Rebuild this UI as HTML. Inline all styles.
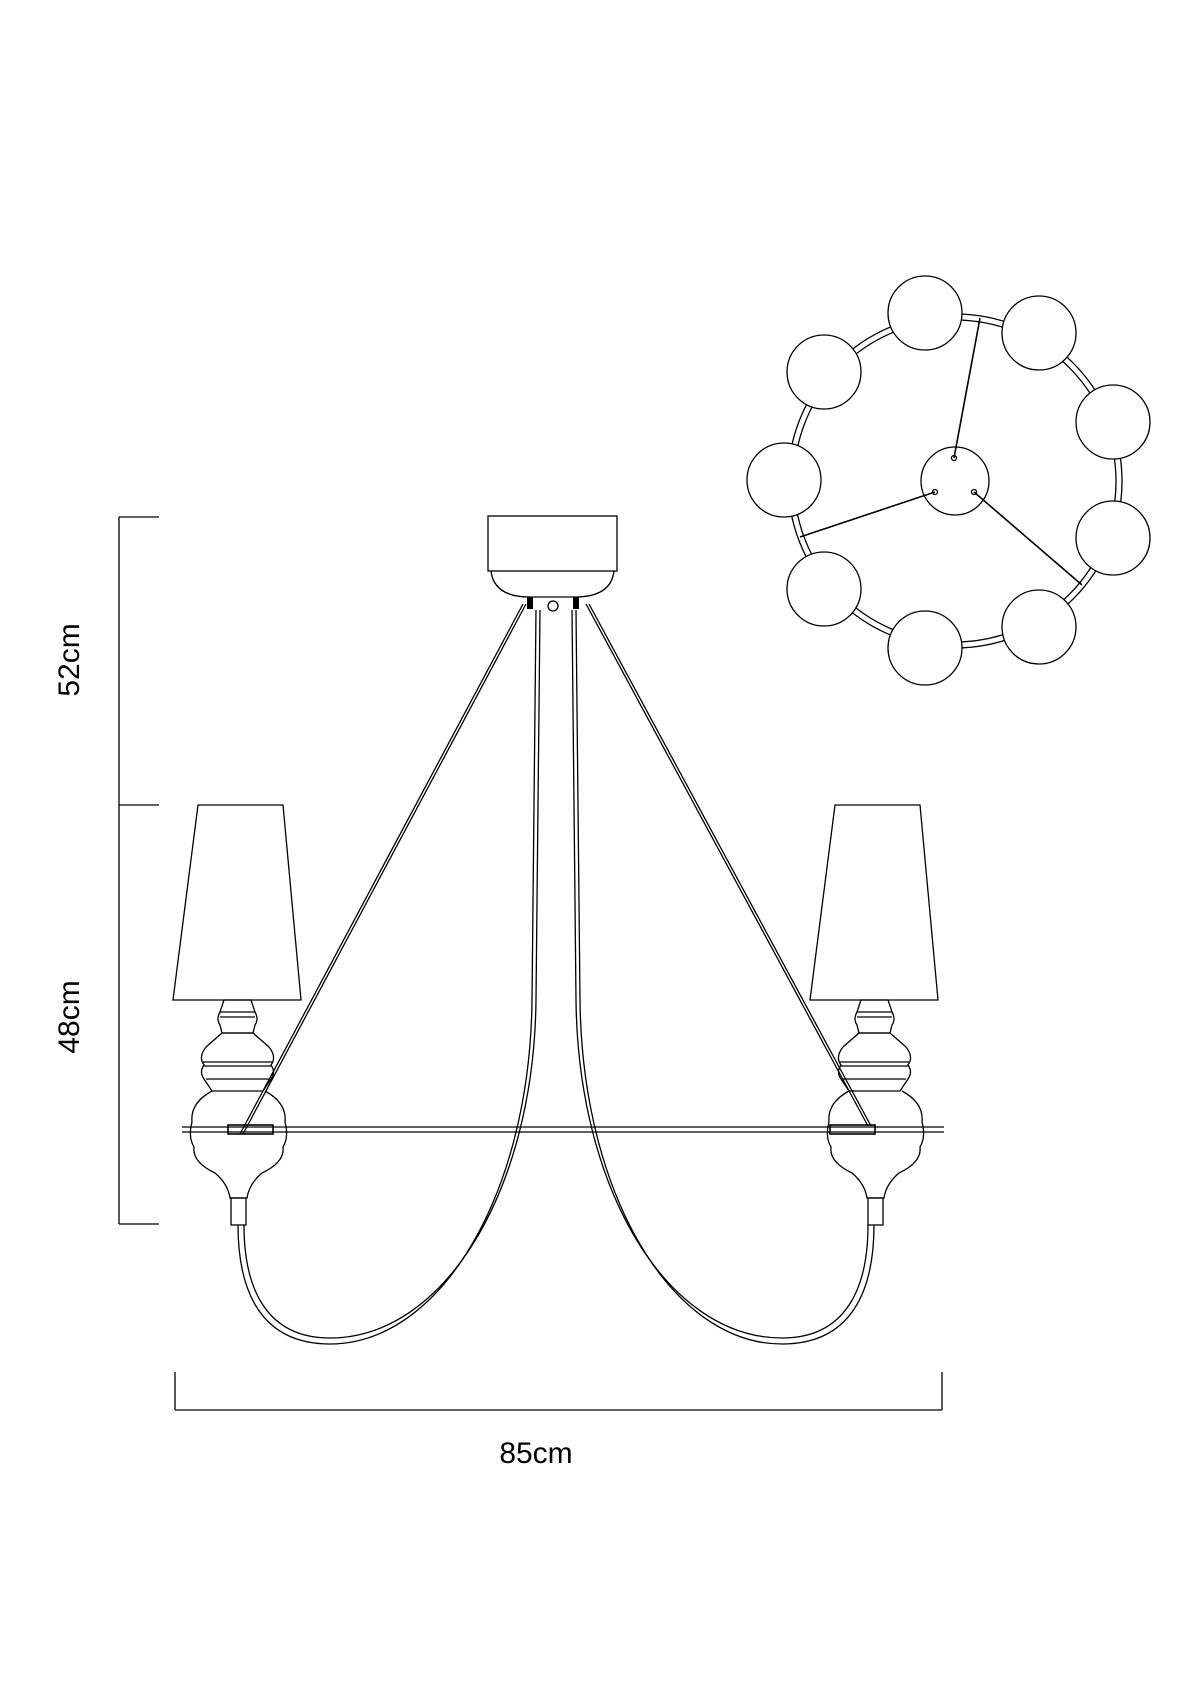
<!DOCTYPE html>
<html><head><meta charset="utf-8"><style>html,body{margin:0;padding:0;background:#fff}svg{display:block}</style></head>
<body>
<svg width="1190" height="1684" viewBox="0 0 1190 1684" xmlns="http://www.w3.org/2000/svg" font-family="Liberation Sans, sans-serif">
<g fill="none" stroke="#000" stroke-width="1.3">
<path d="M119 517V1224M119 517H159M119 805H159M119 1224H159"/>
<path d="M175 1410H942M175 1372V1410M942 1372V1410"/>
<circle cx="955" cy="481" r="161"/>
<circle cx="955" cy="481" r="167"/>
<g fill="#fff">
<circle cx="925" cy="313" r="37"/><circle cx="1039" cy="333" r="37"/><circle cx="824" cy="372" r="37"/>
<circle cx="1113" cy="422" r="37"/><circle cx="784" cy="480" r="37"/><circle cx="1113" cy="538" r="37"/>
<circle cx="824" cy="589" r="37"/><circle cx="1039" cy="627" r="37"/><circle cx="925" cy="648" r="37"/>
<circle cx="955" cy="481" r="34"/>
</g>
<path d="M954 458L980 318M935 492L800 537M974 492L1082 585" stroke-width="1.6"/>
<circle cx="954" cy="458" r="2.5"/><circle cx="935" cy="492" r="2.5"/><circle cx="974" cy="492" r="2.5"/>
<rect x="488" y="516" width="129" height="55"/>
<path d="M491 571Q494 597 530 597H575Q611 597 614 571"/>
<path d="M530 597v12M576 597v12" stroke-width="6"/>
<circle cx="553" cy="606" r="5"/>
<path d="M523 604L240 1134M526 604L243 1134M586 604L868 1126M589 604L871 1126"/>
<path d="M536 610L532 1000C530 1195 440 1344 330 1344C260 1344 238 1290 238 1225"/>
<path d="M540 610L536 1000C534 1191 444 1338 330 1338C266 1338 244 1288 244 1225"/>
<path d="M576 610L580 1000C582 1195 672 1344 782 1344C852 1344 874 1290 874 1225"/>
<path d="M572 610L576 1000C578 1191 668 1338 782 1338C846 1338 868 1288 868 1225"/>
<path d="M182 1127H944M182 1132H944"/>
<rect x="228" y="1125" width="45" height="9" stroke-width="1.6"/>
<rect x="830" y="1125" width="45" height="9" stroke-width="1.6"/>
<g id="lamp">
<path d="M198 805H283L301 1000H173Z" fill="#fff"/>
<path d="M224 1000L220 1012Q216 1019 220 1025L222 1033H253L255 1025Q259 1019 255 1012L251 1000Z"/>
<path d="M220 1012H255M220 1017H255"/>
<path d="M222 1033L206 1047Q198 1057 204 1065Q199 1072 204 1079L212 1091H263L271 1079Q276 1072 271 1065Q277 1057 269 1047L253 1033Z"/>
<path d="M203 1062H272M203 1066H272M206 1079H269"/>
<path d="M212 1091Q190 1103 192 1122Q188 1137 194 1147Q192 1162 215 1173Q228 1184 230 1198H247Q249 1184 262 1173Q285 1162 283 1147Q289 1137 285 1122Q287 1103 265 1091"/>
<rect x="231" y="1198" width="15" height="27"/>
</g>
<use href="#lamp" transform="translate(637 0)"/>
</g>
<g font-size="30" fill="#000">
<text x="536" y="1473" text-anchor="middle" dy="-10">85cm</text>
<text transform="translate(79 660) rotate(-90)" text-anchor="middle">52cm</text>
<text transform="translate(79 1017) rotate(-90)" text-anchor="middle">48cm</text>
</g>
</svg>
</body></html>
